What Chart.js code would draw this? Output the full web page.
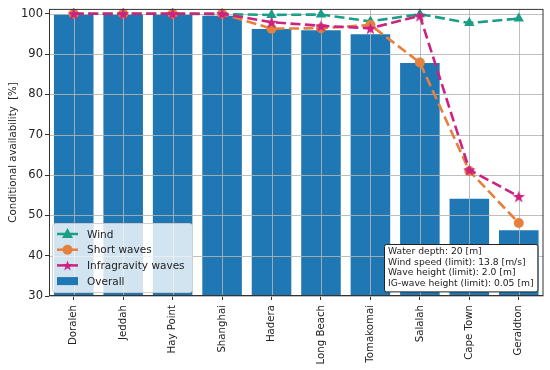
<!DOCTYPE html>
<html>
<head>
<meta charset="utf-8">
<script src="https://cdn.jsdelivr.net/npm/chart.js@4.4.0/dist/chart.umd.min.js"></script>
<style>
  html, body { margin: 0; padding: 0; background: #fff; }
</style>
</head>
<body>
<canvas id="chart" width="550" height="370"></canvas>
<script>
const ports = ['Doraleh', 'Jeddah', 'Hay Point', 'Shanghai', 'Hadera', 'Long Beach', 'Tomakomai', 'Salalah', 'Cape Town', 'Geraldton'];
const overall = [99.9, 99.9, 99.8, 99.5, 96.2, 95.9, 94.9, 87.8, 54.1, 46.3];
const wind = [100, 100, 100, 99.9, 99.7, 99.8, 98.1, 99.9, 97.7, 98.8];
const shortWaves = [100, 100, 100, 100, 96.3, 96.4, 97.2, 87.9, 61.0, 48.1];
const igWaves = [100, 100, 100, 100, 97.9, 97.0, 96.4, 99.5, 61.3, 54.7];
const yTicks = [30, 40, 50, 60, 70, 80, 90, 100];
const noteLines = [
  'Water depth: 20 [m]',
  'Wind speed (limit): 13.8 [m/s]',
  'Wave height (limit): 2.0 [m]',
  'IG-wave height (limit): 0.05 [m]'
];

const FONT = '"DejaVu Sans", sans-serif';
const colors = {
  bar: '#1f77b4',
  wind: '#1a9e86',
  short: '#e5803f',
  ig: '#cc2282'
};

// filled 5-point star like matplotlib's '*'
function starCanvas(r, color) {
  const c = document.createElement('canvas');
  c.width = c.height = Math.ceil(2 * r + 2);
  const g = c.getContext('2d');
  const cx = c.width / 2, cy = c.height / 2 + r * 0.1;
  g.beginPath();
  for (let i = 0; i < 10; i++) {
    const rad = i % 2 === 0 ? r : r * 0.4;
    const a = -Math.PI / 2 + i * Math.PI / 5;
    g.lineTo(cx + rad * Math.cos(a), cy + rad * Math.sin(a));
  }
  g.closePath();
  g.fillStyle = color;
  g.fill();
  return c;
}
const star = starCanvas(6.5, colors.ig);
const smallStar = starCanvas(5.5, colors.ig);

// grid over the bars but under the lines, frame, legend and text box
const decor = {
  id: 'decor',
  afterDatasetDraw(chart, args) {
    if (args.meta.type !== 'bar') return;
    const { ctx, chartArea: a, scales } = chart;
    ctx.save();
    ctx.strokeStyle = 'rgba(180,180,180,0.85)';
    ctx.lineWidth = 1;
    ctx.beginPath();
    yTicks.forEach(v => {
      const y = Math.round(scales.y.getPixelForValue(v)) + 0.5;
      ctx.moveTo(a.left, y); ctx.lineTo(a.right, y);
    });
    ports.forEach((p, i) => {
      const x = Math.round(scales.x.getPixelForValue(i)) + 0.5;
      ctx.moveTo(x, a.top); ctx.lineTo(x, a.bottom);
    });
    ctx.stroke();
    ctx.restore();
  },
  afterDraw(chart) {
    const { ctx, chartArea: a } = chart;
    ctx.save();
    ctx.strokeStyle = '#333';
    ctx.lineWidth = 1;
    ctx.strokeRect(a.left + 0.5, a.top + 0.5, a.right - a.left - 1, a.bottom - a.top - 1);

    // legend
    const lx = a.left + 3, ly = a.bottom - 73, lw = 140, lh = 69;
    ctx.fillStyle = 'rgba(255,255,255,0.8)';
    ctx.strokeStyle = 'rgba(204,204,204,0.9)';
    ctx.beginPath();
    ctx.roundRect(lx + 0.5, ly + 0.5, lw, lh, 3);
    ctx.fill();
    ctx.stroke();
    const items = [
      { label: 'Wind', color: colors.wind, marker: 'tri' },
      { label: 'Short waves', color: colors.short, marker: 'circle' },
      { label: 'Infragravity waves', color: colors.ig, marker: 'star' },
      { label: 'Overall', color: colors.bar, marker: 'patch' }
    ];
    ctx.font = '10.5px ' + FONT;
    ctx.textBaseline = 'middle';
    items.forEach((it, i) => {
      const y = ly + 11 + i * 15.7;
      const x0 = lx + 5, x1 = lx + 26, xm = (x0 + x1) / 2;
      if (it.marker === 'patch') {
        ctx.fillStyle = it.color;
        ctx.fillRect(x0, y - 4, x1 - x0, 8);
      } else {
        ctx.strokeStyle = it.color;
        ctx.lineWidth = 2.5;
        ctx.beginPath();
        ctx.moveTo(x0, y); ctx.lineTo(x1, y);
        ctx.stroke();
        ctx.fillStyle = it.color;
        if (it.marker === 'tri') {
          ctx.beginPath();
          ctx.moveTo(xm, y - 6); ctx.lineTo(xm + 5.5, y + 4); ctx.lineTo(xm - 5.5, y + 4);
          ctx.closePath(); ctx.fill();
        } else if (it.marker === 'circle') {
          ctx.beginPath(); ctx.arc(xm, y, 5, 0, Math.PI * 2); ctx.fill();
        } else {
          ctx.drawImage(smallStar, xm - smallStar.width / 2, y - smallStar.height / 2);
        }
      }
      ctx.fillStyle = '#222';
      ctx.fillText(it.label, lx + 35, y + 1);
    });

    // text box
    ctx.font = '9.2px ' + FONT;
    const tw = Math.max(...noteLines.map(s => ctx.measureText(s).width));
    const bw = tw + 8, bh = noteLines.length * 10.6 + 5;
    const bx = a.right - bw - 6, by = a.bottom - bh - 5;
    ctx.fillStyle = '#fff';
    ctx.strokeStyle = '#222';
    ctx.lineWidth = 1;
    ctx.beginPath();
    ctx.roundRect(Math.round(bx) + 0.5, Math.round(by) + 0.5, bw, bh, 2);
    ctx.fill();
    ctx.stroke();
    ctx.fillStyle = '#222';
    noteLines.forEach((s, i) => ctx.fillText(s, bx + 4, by + 8 + i * 10.6));
    ctx.restore();
  }
};

const lineDs = (label, data, color, style, radius, order) => ({
  type: 'line',
  label,
  data,
  borderColor: color,
  backgroundColor: color,
  borderWidth: 2.6,
  borderDash: [10, 4.5],
  pointStyle: style,
  pointRadius: radius,
  pointBorderWidth: 0,
  pointBackgroundColor: color,
  tension: 0,
  clip: false,
  order
});

new Chart(document.getElementById('chart'), {
  type: 'bar',
  data: {
    labels: ports,
    datasets: [
      {
        label: 'Overall',
        data: overall,
        backgroundColor: colors.bar,
        barPercentage: 0.8,
        categoryPercentage: 1,
        order: 4
      },
      lineDs('Wind', wind, colors.wind, 'triangle', 6, 3),
      lineDs('Short waves', shortWaves, colors.short, 'circle', 5, 2),
      lineDs('Infragravity waves', igWaves, colors.ig, star, 6.5, 1)
    ]
  },
  options: {
    responsive: false,
    animation: false,
    layout: { padding: { top: 5, right: 5, left: 0, bottom: 0 } },
    plugins: {
      legend: { display: false },
      tooltip: { enabled: false }
    },
    scales: {
      x: {
        offset: true,
        grid: { drawOnChartArea: false, offset: false, tickLength: 4, tickColor: '#333' },
        border: { display: false },
        ticks: {
          minRotation: 90, maxRotation: 90, autoSkip: false,
          padding: 5, color: '#222', font: { family: FONT, size: 10.2 }
        },
        afterFit(scale) { scale.height = 74; }
      },
      y: {
        min: 30,
        max: 101.2,
        grid: { drawOnChartArea: false, tickLength: 4, tickColor: '#333' },
        border: { display: false },
        afterBuildTicks(scale) { scale.ticks = yTicks.map(v => ({ value: v })); },
        ticks: { padding: 2, color: '#222', font: { family: FONT, size: 11.5 } },
        title: {
          display: true,
          text: 'Conditional availability  [%]',
          color: '#222',
          font: { family: FONT, size: 10.2 },
          padding: { top: 7, bottom: 2 }
        },
        afterFit(scale) { scale.width = 49; }
      }
    }
  },
  plugins: [decor]
});
</script>
</body>
</html>
